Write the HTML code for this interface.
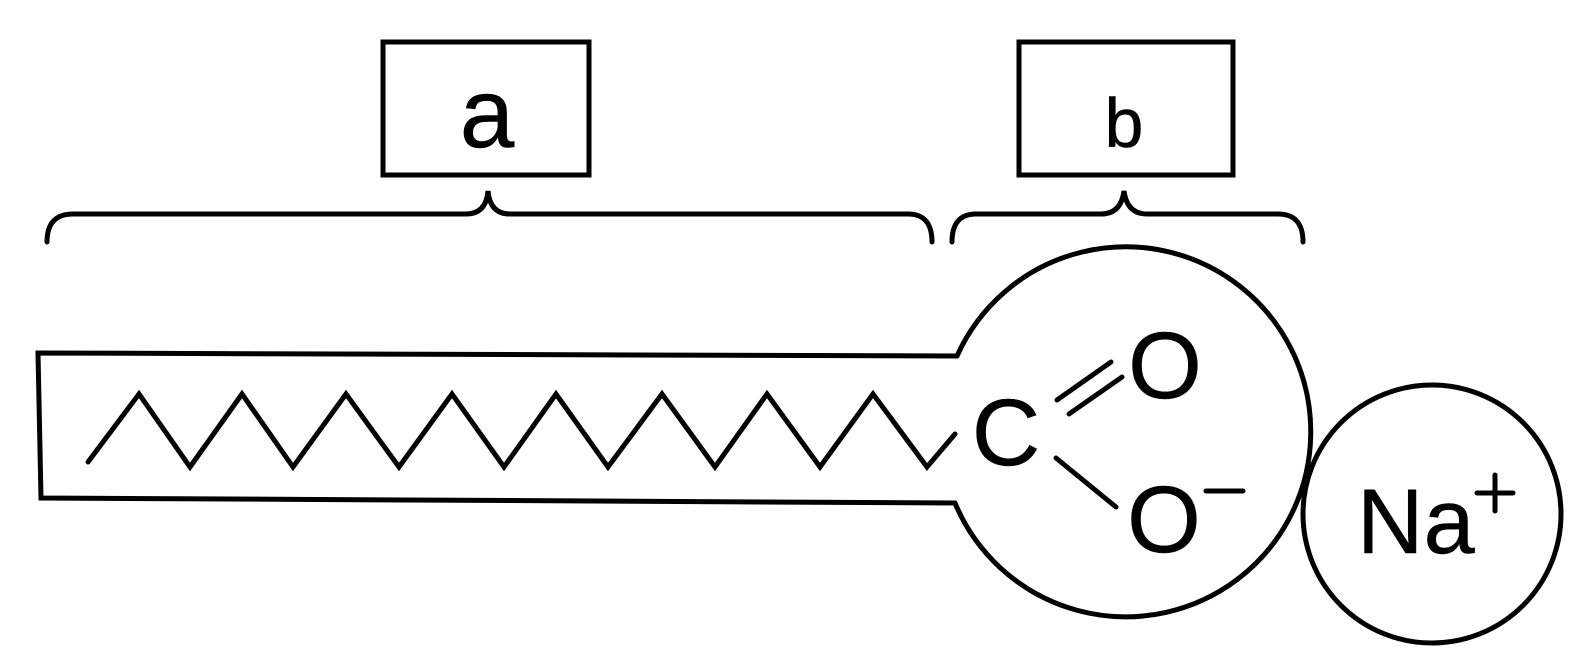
<!DOCTYPE html>
<html><head><style>body{margin:0;background:#fff}svg{display:block}</style></head>
<body>
<svg width="1592" height="663" viewBox="0 0 1592 663" xmlns="http://www.w3.org/2000/svg">
<g fill="none" stroke="#000" stroke-width="5" stroke-linejoin="miter" stroke-linecap="round">
<rect x="383" y="42" width="206" height="133"/>
<rect x="1019" y="42" width="214" height="133"/>
<path d="M47,242 Q47,214 73,214 L466,214 Q486,214 488,191 Q490,214 510,214 L908,214 Q932,214 932,242"/>
<path d="M952,242 Q952,214 976,214 L1101,214 Q1121,214 1124,191 Q1127,214 1147,214 L1278,214 Q1303,214 1303,242"/>
<path d="M957,356 L38,353 L41,498 L955,503"/>
<path d="M957,356 A185,185 0 1 1 955,503"/>
<circle cx="1432" cy="514" r="129"/>
<polyline points="88,462 139,394 190,467 242,394 293,467 346,394 399,467 452,394 504,467 556,394 608,467 662,394 715,467 767,394 820,467 873,394 927,467 955,434"/>
<line x1="1057" y1="400" x2="1111" y2="362"/>
<line x1="1069" y1="414" x2="1122" y2="377"/>
<line x1="1056" y1="458" x2="1116" y2="507"/>
<line x1="1206" y1="491" x2="1243" y2="491"/>
<line x1="1477" y1="493" x2="1513" y2="493"/>
<line x1="1495" y1="475" x2="1495" y2="511"/>
</g>
<g font-family="Liberation Sans, sans-serif" fill="#000" stroke="#000" stroke-width="0.5" text-anchor="middle">
<text x="487" y="147" font-size="98">a</text>
<text x="1124" y="147" font-size="70">b</text>
<text x="1006" y="465" font-size="95">C</text>
<text x="1165" y="398" font-size="95">O</text>
<text x="1164" y="552" font-size="95">O</text>
<text x="1357" y="553" font-size="92" text-anchor="start">Na</text>
</g>
</svg>
</body></html>
